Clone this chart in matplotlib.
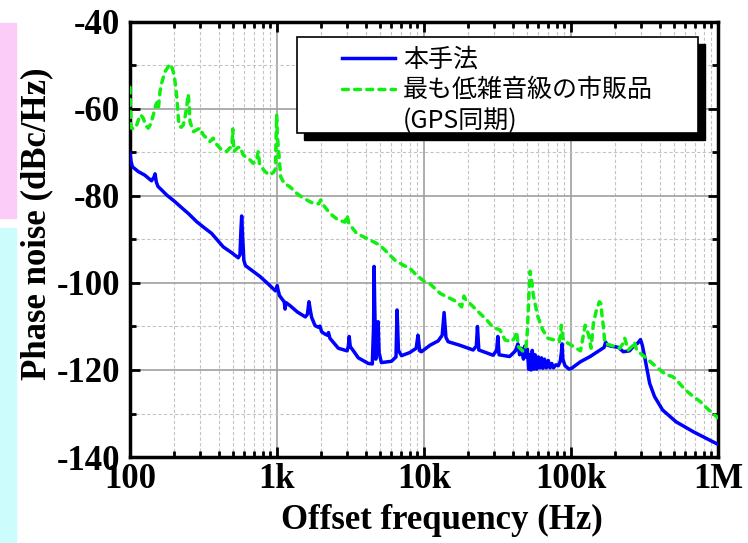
import matplotlib
matplotlib.use("Agg")
import matplotlib.pyplot as plt
from matplotlib.patches import Rectangle
from matplotlib.lines import Line2D
from matplotlib.ticker import LogLocator, NullFormatter

# ---- data ----
blue_f = [100, 101.5, 104, 114, 126, 140, 146, 148, 151, 155, 164, 178, 202, 230, 249, 284, 320, 359,
          431, 490, 545, 560, 568, 575, 583, 595, 610, 700, 766, 870, 975, 990, 1003, 1015, 1040,
          1100, 1120, 1135, 1150, 1226, 1380, 1560, 1610, 1650, 1690, 1720, 1815, 1920, 1962, 2010,
          2110, 2200, 2240, 2290, 2613, 3000, 3060, 3098, 3150, 3310, 3573, 4180, 4450, 4540, 4576,
          4620, 4700, 4800, 4870, 4950, 5130, 6000, 6450, 6560, 6700, 7030, 8000, 8850, 9100, 9350,
          9600, 11000, 12500, 13300, 13700, 14100, 14600, 17500, 21600, 22700, 23100, 23600, 29500,
          31200, 31800, 32400, 38200, 41300, 42000, 43500, 44700, 46000, 47500, 48500, 49500, 50500,
          51500, 52500, 53500, 54500, 56000, 57000, 58500, 60000, 61500, 63000, 64500, 66000, 68000,
          70000, 72000, 74000, 76000, 79000, 82000, 84500, 86000, 87000, 88000, 91000, 97000, 101000,
          116000, 135000, 158000, 168000, 172000, 176000, 186000, 210000, 227000, 250000, 270000,
          285000, 297000, 305000, 315000, 326000, 343000, 370000, 420000, 518000, 680000, 1000000]
blue_db = [-70.2, -72.0, -73.3, -74.4, -75.2, -76.5, -75.6, -74.9, -76.8, -77.8, -78.6, -79.8, -81.3,
           -83.0, -84.0, -85.9, -87.3, -88.6, -91.7, -93.0, -94.2, -93.5, -88.0, -84.6, -89.0, -94.8,
           -96.0, -97.5, -98.5, -100.2, -101.8, -101.5, -100.6, -101.5, -102.9, -104.0, -104.3,
           -106.0, -104.5, -105.2, -106.7, -107.8, -107.2, -104.3, -106.5, -107.9, -109.8, -110.2,
           -109.9, -111.2, -111.7, -112.0, -111.4, -112.7, -115.0, -115.6, -114.4, -112.3, -114.6,
           -115.6, -117.2, -118.5, -118.6, -110.0, -96.2, -105.0, -117.5, -115.0, -108.9, -116.0,
           -118.3, -118.0, -117.0, -106.2, -115.5, -116.7, -116.0, -115.0, -112.0, -115.6, -115.8,
           -114.3, -113.3, -112.0, -106.8, -112.5, -113.5, -114.3, -115.4, -114.5, -110.0, -115.4,
           -116.6, -115.5, -112.3, -116.5, -116.9, -115.8, -115.5, -114.0, -116.5, -115.0, -117.5,
           -114.5, -117.0, -115.2, -119.8, -116.5, -120.0, -115.5, -119.8, -116.5, -119.8, -117.0,
           -119.5, -117.2, -119.6, -117.5, -119.5, -117.8, -119.5, -118.5, -119.5, -118.8, -119.0,
           -118.0, -116.0, -114.0, -117.5, -119.0, -119.8, -119.6, -118.1, -116.9, -115.4, -114.8,
           -113.6, -114.2, -114.5, -114.8, -115.8, -115.6, -114.3, -113.8, -113.0, -114.2, -116.5,
           -119.2, -123.1, -126.1, -129.2, -131.9, -134.2, -137.1]

green_f = [100, 100.7, 101.5, 106, 111, 117, 120, 123, 128, 133, 138, 144, 150, 153, 156, 160, 164,
           173, 187, 193, 200, 208, 215, 223, 230, 238, 243, 249, 253, 256, 270, 299, 316, 332, 350,
           368, 390, 420, 455, 475, 492, 497, 500, 504, 510, 535, 560, 590, 655, 690, 725, 745, 760,
           766, 829, 895, 950, 975, 985, 995, 1005, 1030, 1060, 1120, 1226, 1365, 1510, 1765, 1920,
           1985, 2040, 2070, 2290, 2600, 2900, 3000, 3080, 3480, 4290, 5000, 5560, 6310, 7220, 8000,
           8900, 10100, 10900, 12900, 15000, 16700, 18000, 18700, 19300, 20500, 23400, 26700, 29500,
           32900, 35600, 39500, 41500, 42700, 43800, 47400, 49500, 50500, 51500, 52700, 54000, 55400,
           59500, 64300, 69600, 77000, 83300, 85000, 86000, 87500, 89000, 95000, 104000, 116000,
           121000, 125000, 129000, 132000, 137000, 140000, 142000, 149000, 156000, 160000, 162000,
           166000, 170000, 186000, 215000, 225000, 232000, 245000, 262000, 270000, 280000, 326000,
           390000, 445000, 490000, 508000, 535000, 600000, 680000, 760000, 840000, 1000000]
green_db = [-55.0, -60.0, -64.3, -64.6, -63.7, -61.4, -61.6, -62.1, -63.8, -64.4, -63.5, -61.4, -59.0,
            -58.5, -59.8, -56.0, -54.1, -51.4, -49.7, -50.5, -52.2, -57.2, -63.7, -64.2, -63.7, -61.5,
            -59.5, -56.6, -59.5, -62.9, -65.2, -64.4, -66.0, -66.7, -67.5, -66.7, -68.2, -69.4, -69.8,
            -69.0, -68.7, -66.5, -64.6, -67.5, -69.8, -69.0, -68.7, -70.6, -71.7, -72.5, -71.8, -69.8,
            -72.5, -72.9, -74.4, -75.2, -74.5, -73.8, -68.0, -61.3, -66.0, -70.5, -75.6, -77.1, -77.9,
            -79.4, -80.5, -81.7, -81.8, -80.9, -82.0, -82.1, -84.0, -85.5, -86.0, -84.4, -86.3, -88.6,
            -90.1, -91.3, -92.8, -94.7, -95.9, -96.6, -98.2, -99.7, -100.1, -102.4, -103.5, -104.3,
            -105.5, -103.0, -104.0, -104.7, -106.6, -108.5, -110.2, -110.8, -113.1, -113.5, -112.5,
            -111.2, -114.6, -115.8, -114.5, -111.0, -104.0, -97.3, -99.5, -102.8, -107.7, -110.8,
            -112.7, -113.1, -113.5, -111.5, -109.7, -112.0, -113.1, -113.8, -114.6, -115.6, -112.3,
            -109.7, -111.0, -112.0, -115.0, -111.5, -109.3, -106.2, -104.3, -104.8, -107.0, -110.0,
            -113.9, -114.3, -115.0, -114.0, -112.7, -115.4, -114.5, -113.5, -115.5, -117.3, -119.6,
            -121.1, -121.5, -121.9, -122.7, -124.6, -126.1, -127.3, -128.8, -131.0]

xticks = [100, 1e3, 1e4, 1e5, 1e6]
xlabels = ["100", "1k", "10k", "100k", "1M"]
yticks = [-140, -120, -100, -80, -60, -40]
ylabels = ["-140", "-120", "-100", "-80", "-60", "-40"]
yminor = [-130, -110, -90, -70, -50]
labels = ["本手法", "最も低雑音級の市販品", "(GPS同期)"]

plt.rcParams['font.family'] = ['Liberation Serif', 'DejaVu Serif']
cjk = ['Noto Sans CJK JP', 'DejaVu Sans']
BLUE, GREEN = '#0000ff', '#11ee11'

fig = plt.figure(figsize=(7.48, 5.43), dpi=100)
# strips of the slide behind the chart
fig.patches.append(Rectangle((0, 1 - 218/543), 16/748, 195/543, transform=fig.transFigure,
                             color='#fbccf7', zorder=0))
fig.patches.append(Rectangle((0, 0), 16/748, 315/543, transform=fig.transFigure,
                             color='#ccfcfc', zorder=0))

ax = fig.add_axes([130/748, 1 - 457/543, 588/748, 435/543])
ax.plot(blue_f, blue_db, color=BLUE, lw=2.5, solid_joinstyle='round', zorder=3)
ax.plot(green_f, green_db, color=GREEN, lw=2.5, dashes=(1.7, 1.8), dash_capstyle='round', zorder=3)
ax.set_xscale('log')
ax.set_xlim(100, 1e6); ax.set_ylim(-140, -40)
ax.set_xticks(xticks, xlabels)
ax.set_yticks(yticks, ylabels)
ax.set_yticks(yminor, minor=True)
ax.xaxis.set_minor_locator(LogLocator(subs=range(2, 10)))
ax.xaxis.set_minor_formatter(NullFormatter())
ax.grid(which='major', color='#a0a0a0', lw=1.2, ls='-')
ax.grid(which='minor', color='#c4c4c4', lw=0.8, ls=(0, (3, 2)))
ax.tick_params(which='both', direction='in', top=True, right=True, width=2, colors='k')
ax.tick_params(which='major', length=7, labelsize=25)
ax.tick_params(which='minor', length=4)
ax.tick_params(axis='x', pad=4); ax.tick_params(axis='y', pad=7)
for t in ax.get_xticklabels() + ax.get_yticklabels():
    t.set_fontweight('bold')
for s in ax.spines.values():
    s.set_linewidth(2.5)
ax.set_xlabel("Offset frequency (Hz)", fontsize=25, fontweight='bold', va='top')
ax.xaxis.set_label_coords(0.531, -0.108)
ax.set_ylabel("Phase noise (dBc/Hz)", fontsize=25, fontweight='bold')
ax.yaxis.set_label_coords(-0.131, 0.537)

# legend frame with a solid black shadow
ax.add_patch(Rectangle((0.296, 0.7287), 0.682, 0.221, transform=ax.transAxes,
                       facecolor='k', edgecolor='k', zorder=5, clip_on=False))
ax.add_patch(Rectangle((0.284, 0.745), 0.682, 0.2205, transform=ax.transAxes,
                       facecolor='white', edgecolor='k', lw=1.2, zorder=6, clip_on=False))
handles = [Line2D([], [], color=BLUE, lw=2.5),
           Line2D([], [], color=GREEN, lw=2.5, dashes=(1.7, 1.8), dash_capstyle='round'),
           Line2D([], [], color='none')]
leg = ax.legend(handles, labels, loc='upper left', bbox_to_anchor=(0.3605, 0.943),
                frameon=False, borderpad=0, borderaxespad=0, handlelength=2.12,
                handletextpad=0.32, labelspacing=0.18, prop={'family': cjk, 'size': 18})
leg.set_zorder(7)

fig.savefig("out.png", dpi=100)
